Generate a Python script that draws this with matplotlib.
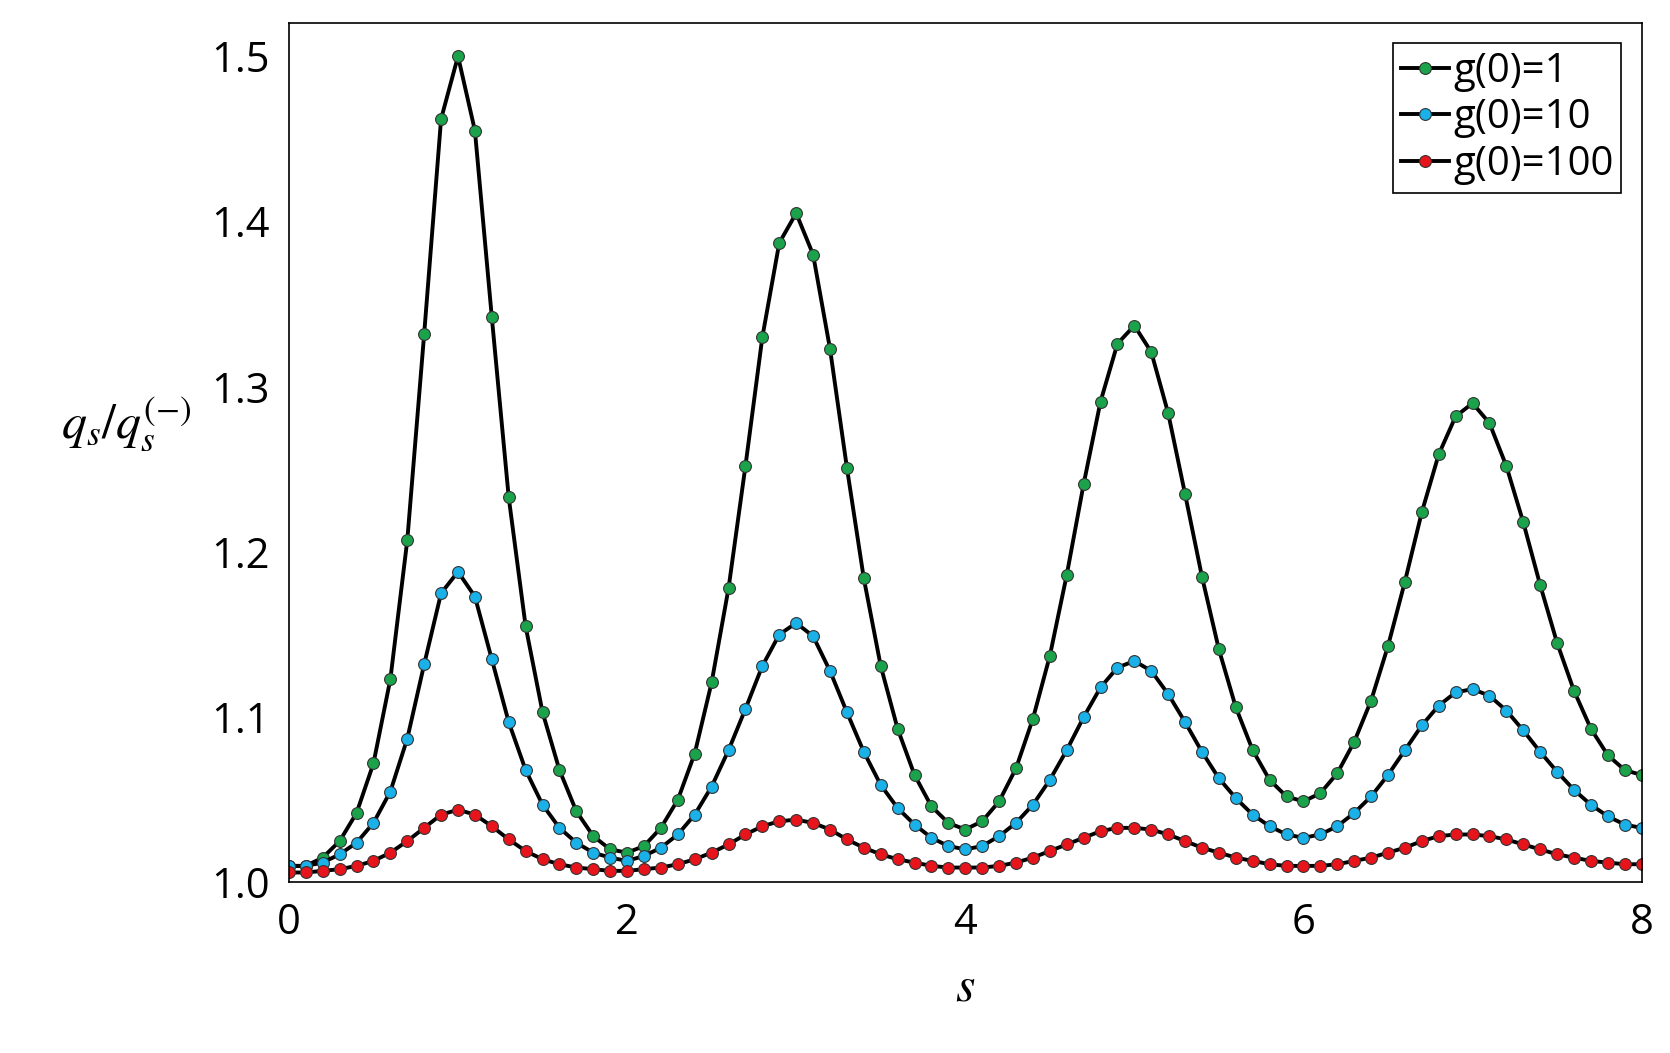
import numpy as np
import matplotlib.pyplot as plt

################################################################################

S = np.round(np.arange(0, 8.01, 0.1), 1)

G1 = [1.010, 1.010, 1.015, 1.025, 1.042, 1.072, 1.123, 1.207, 1.332, 1.462, 1.500,
      1.455, 1.342, 1.233, 1.155, 1.103, 1.068, 1.043, 1.028, 1.020, 1.018,
      1.022, 1.033, 1.050, 1.078, 1.121, 1.178, 1.252, 1.330, 1.387, 1.405,
      1.380, 1.323, 1.251, 1.184, 1.131, 1.093, 1.065, 1.046, 1.036, 1.032,
      1.037, 1.049, 1.069, 1.099, 1.137, 1.186, 1.241, 1.291, 1.326, 1.337,
      1.321, 1.284, 1.235, 1.185, 1.141, 1.106, 1.080, 1.062, 1.052, 1.049,
      1.054, 1.066, 1.085, 1.110, 1.143, 1.182, 1.224, 1.259, 1.282, 1.290,
      1.278, 1.252, 1.218, 1.180, 1.145, 1.116, 1.093, 1.077, 1.068, 1.065]

G10 = [1.010, 1.010, 1.012, 1.017, 1.024, 1.036, 1.055, 1.087, 1.132, 1.175, 1.188,
       1.173, 1.135, 1.097, 1.068, 1.047, 1.033, 1.024, 1.018, 1.015, 1.013,
       1.016, 1.021, 1.029, 1.041, 1.058, 1.080, 1.105, 1.131, 1.150, 1.157,
       1.149, 1.128, 1.103, 1.079, 1.059, 1.045, 1.035, 1.027, 1.022, 1.020,
       1.022, 1.028, 1.036, 1.047, 1.062, 1.080, 1.100, 1.118, 1.130, 1.134,
       1.128, 1.114, 1.097, 1.079, 1.063, 1.051, 1.041, 1.034, 1.029, 1.027,
       1.029, 1.034, 1.042, 1.052, 1.065, 1.080, 1.095, 1.107, 1.115, 1.117,
       1.113, 1.104, 1.092, 1.079, 1.067, 1.056, 1.047, 1.040, 1.035, 1.033]

G100 = [1.006, 1.006, 1.007, 1.008, 1.010, 1.013, 1.018, 1.025, 1.033, 1.041, 1.044,
        1.041, 1.034, 1.026, 1.019, 1.014, 1.011, 1.009, 1.008, 1.007, 1.007,
        1.008, 1.009, 1.011, 1.014, 1.018, 1.023, 1.029, 1.034, 1.037, 1.038,
        1.036, 1.032, 1.026, 1.021, 1.017, 1.014, 1.012, 1.010, 1.009, 1.009,
        1.009, 1.010, 1.012, 1.015, 1.019, 1.023, 1.027, 1.031, 1.033, 1.033,
        1.032, 1.029, 1.025, 1.021, 1.018, 1.015, 1.013, 1.011, 1.010, 1.010,
        1.010, 1.011, 1.013, 1.015, 1.018, 1.021, 1.025, 1.028, 1.029, 1.029,
        1.028, 1.026, 1.023, 1.020, 1.017, 1.015, 1.013, 1.012, 1.011, 1.011]

SERIES = [("g(0)=1", G1, "#1aa34a"), ("g(0)=10", G10, "#1ab0e8"), ("g(0)=100", G100, "#e8141c")]

################################################################################

plt.rcParams["font.family"] = ["Open Sans", "DejaVu Sans"]
plt.rcParams["mathtext.fontset"] = "stix"

fig = plt.figure(figsize=(16.7, 10.53), dpi=100)
ax = fig.add_axes([0.173, 0.162, 0.81, 0.816])

for label, ys, color in SERIES:
    ax.plot(S, ys, color="black", lw=2.8, marker="o", ms=8.5, mfc=color,
            mec="#333333", mew=0.8, label=label)

ax.set_xlim(0, 8)
ax.set_ylim(1.0, 1.52)
ax.set_xticks([0, 2, 4, 6, 8])
ax.set_yticks([1.0, 1.1, 1.2, 1.3, 1.4, 1.5])
ax.set_yticklabels(["1.0", "1.1", "1.2", "1.3", "1.4", "1.5"])
ax.tick_params(labelsize=30, length=0, pad=14)
for sp in ax.spines.values():
    sp.set_linewidth(1.2)

ax.set_xlabel(r"$s$", fontsize=36, labelpad=14)
ax.set_ylabel(r"$q_s/q_s^{(\mathrm{-})}$", fontsize=36, rotation=0)
ax.yaxis.set_label_coords(-0.12, 0.5)

leg = ax.legend(loc="upper right", fontsize=29, handlelength=1.2, handletextpad=0.1,
                borderpad=0.2, labelspacing=0.15, fancybox=False, framealpha=1,
                edgecolor="black", borderaxespad=0.5)
leg.get_frame().set_linewidth(1.2)

fig.savefig("out.png")
